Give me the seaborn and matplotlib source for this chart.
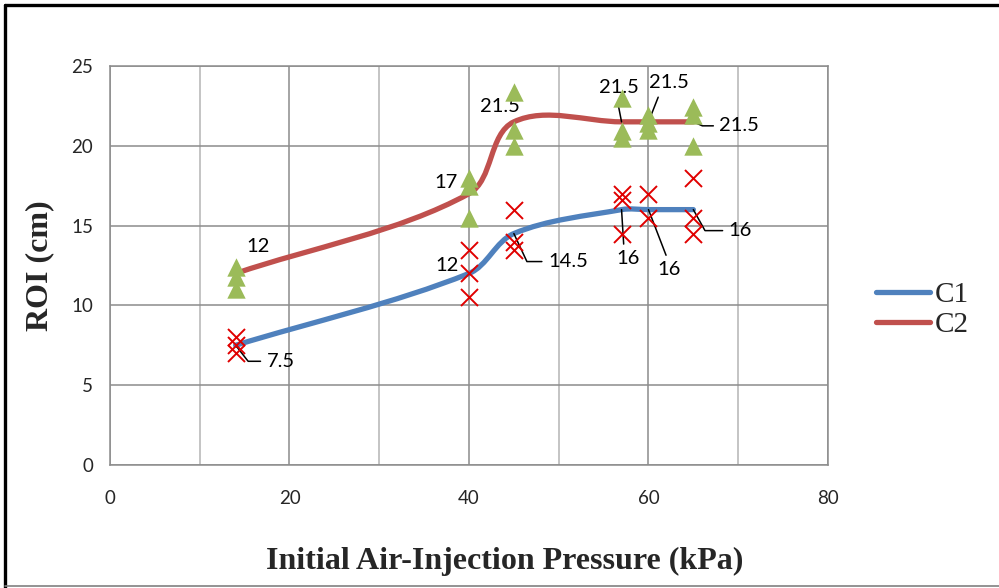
import numpy as np
import pandas as pd
import matplotlib.pyplot as plt
import seaborn as sns
from matplotlib.path import Path
from matplotlib.patches import PathPatch
from matplotlib.lines import Line2D
from matplotlib.ticker import MultipleLocator

# fitted ROI curves
pressure = [14, 40, 45, 57, 60, 65]
roi_c1 = [7.5, 12, 14.5, 16, 16, 16]
roi_c2 = [12, 17, 21.5, 21.5, 21.5, 21.5]

# measured points (green triangles / red crosses)
tri_x = [14, 14, 14, 40, 40, 40, 45, 45, 45, 57, 57, 57, 60, 60, 60, 65, 65, 65]
tri_y = [12.4, 11.8, 11.0, 18.0, 17.5, 15.5, 23.4, 21.0, 20.0, 23.0, 20.9, 20.5,
         21.9, 21.4, 21.0, 22.4, 21.9, 20.0]
crs_x = [14, 14, 14, 40, 40, 40, 45, 45, 45, 57, 57, 57, 60, 60, 65, 65, 65]
crs_y = [8.0, 7.5, 7.0, 13.5, 12.0, 10.5, 16.0, 14.0, 13.5, 17.0, 16.6, 14.5,
         17.0, 15.5, 18.0, 15.5, 14.5]

tri = pd.DataFrame({'p': tri_x, 'roi': tri_y})
crs = pd.DataFrame({'p': crs_x, 'roi': crs_y})

# label placement (pixel offsets from point, leader kind)
c2_lab = [((22, 27), None), ((-23, 11), None), ((-14, 15), None),
          ((-3, 34), ('line', (0.45, 0))), ((20, 39), ('line', (0.3, 0))),
          ((46, -4), ('elbow', -24))]
c1_lab = [((45, -16), ('elbow', -52)), ((-22, 8), None), ((54, -28), ('elbow', -65)),
          ((6, -49), ('line', (0.35, 1))), ((21, -60), ('line', (0.45, 1))),
          ((47, -21), ('elbow', -61))]

sns.set_style('white')
tick_font = 'Lato'
serif = 'Liberation Serif'

fig = plt.figure(figsize=(9.99, 5.88), dpi=100)
ax = fig.add_axes([0.1101, 0.2092, 0.7187, 0.6786])
ax.set_xlim(0, 80)
ax.set_ylim(0, 25)
ax.xaxis.set_major_locator(MultipleLocator(20))
ax.xaxis.set_minor_locator(MultipleLocator(10))
ax.yaxis.set_major_locator(MultipleLocator(5))
ax.grid(True, which='major', color='#8c8c8c', lw=1.1)
ax.grid(True, which='minor', axis='x', color='#b4b4b4', lw=1.1)
ax.set_axisbelow(True)
for s in ax.spines.values():
    s.set_color('#8c8c8c')
    s.set_linewidth(1.1)
ax.tick_params(which='both', length=0)
ax.tick_params(axis='x', pad=18)
ax.tick_params(axis='y', pad=12)
for t in ax.get_xticklabels() + ax.get_yticklabels():
    t.set_fontfamily(tick_font)
    t.set_fontsize(13.5)


def smooth(xs, ys, k=0.33):
    # Excel-like smoothed line, built in screen space
    pts = ax.transData.transform(np.column_stack([xs, ys]))
    n = len(pts)
    verts = [pts[0]]
    codes = [Path.MOVETO]
    for i in range(n - 1):
        p0, p1 = pts[max(i - 1, 0)], pts[i]
        p2, p3 = pts[i + 1], pts[min(i + 2, n - 1)]
        L = np.linalg.norm(p2 - p1)
        d1 = (p2 - p0) / np.linalg.norm(p2 - p0)
        d2 = (p3 - p1) / np.linalg.norm(p3 - p1)
        verts += [p1 + d1 * L * k, p2 - d2 * L * k, p2]
        codes += [Path.CURVE4] * 3
    verts = ax.transData.inverted().transform(np.array(verts))
    return Path(verts, codes)


for ys, col in [(roi_c1, '#4F81BD'), (roi_c2, '#C0504D')]:
    ax.add_patch(PathPatch(smooth(pressure, ys), facecolor='none', edgecolor=col,
                           lw=3.8, capstyle='round', zorder=3))

sns.scatterplot(data=tri, x='p', y='roi', marker='^', s=175, color='#9BBB59',
                edgecolor='#9BBB59', linewidth=0, zorder=5, ax=ax, legend=False)
sns.scatterplot(data=crs, x='p', y='roi', marker='x', s=150, color='#E00000',
                linewidth=1.4, zorder=5, ax=ax, legend=False)

for ys, labs in [(roi_c2, c2_lab), (roi_c1, c1_lab)]:
    for x, y, (off, lead) in zip(pressure, ys, labs):
        kw = dict(xy=(x, y), xytext=off, textcoords='offset pixels', ha='center',
                  va='center', fontsize=14.5, family=tick_font, color='black', zorder=4)
        if lead is not None:
            if lead[0] == 'elbow':
                cs = 'angle,angleA=0,angleB=%d,rad=0' % lead[1]
                rp = (0, 0.5)
            else:
                cs = 'arc3'
                rp = lead[1]
            kw['arrowprops'] = dict(arrowstyle='-', color='black', lw=1.1, shrinkA=2,
                                    shrinkB=0, connectionstyle=cs, relpos=rp)
        ax.annotate('%g' % y, **kw)

ax.set_xlabel('Initial Air-Injection Pressure (kPa)', family=serif, fontweight='bold',
              fontsize=23)
ax.set_ylabel('ROI (cm)', family=serif, fontweight='bold', fontsize=23)
ax.xaxis.set_label_coords(0.55, -0.205)
ax.yaxis.set_label_coords(-0.077, 0.5)

handles = [Line2D([], [], color='#4F81BD', lw=3.8, solid_capstyle='round'),
           Line2D([], [], color='#C0504D', lw=3.8, solid_capstyle='round')]
fig.legend(handles, ['C1', 'C2'], loc='center left', bbox_to_anchor=(0.877, 0.473),
           frameon=False, prop={'family': serif, 'size': 21}, handlelength=1.85,
           handletextpad=0.15, labelspacing=0.1, borderpad=0, borderaxespad=0)

# outer chart frame
fig.add_artist(Line2D([0.005, 1.0], [0.9915, 0.9915], color='black', lw=2.4,
                      transform=fig.transFigure))
fig.add_artist(Line2D([0.0055, 0.0055], [0.0, 0.992], color='black', lw=2.4,
                      transform=fig.transFigure))
fig.add_artist(Line2D([0.005, 1.0], [0.003, 0.003], color='#808080', lw=1.2,
                      transform=fig.transFigure))

fig.savefig('out.png', dpi=100)
